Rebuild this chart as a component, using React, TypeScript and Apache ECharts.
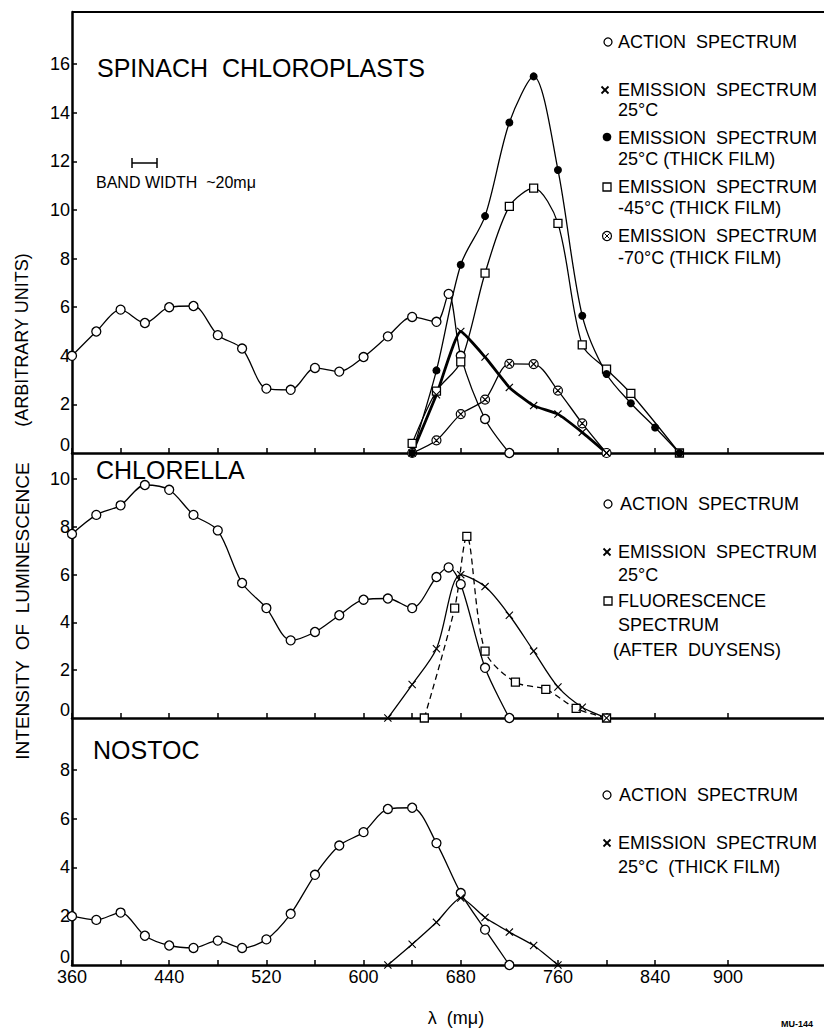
import React, { useEffect, useRef } from "react";
import * as echarts from "echarts";

const FONT = "'Liberation Sans', 'DejaVu Sans', Arial, sans-serif";

// ---- axes ----
const X_MIN = 360;
const X_MAX = 979;
const xTickValues = [360, 400, 440, 480, 520, 560, 600, 640, 680, 720, 760, 800, 840, 900];
const xLabelValues = [360, 440, 520, 600, 680, 760, 840, 900];

const spinachYMax = 18.15;
const spinachTicks = [2, 4, 6, 8, 10, 12, 14, 16];
const spinachLabels = [0, 2, 4, 6, 8, 10, 12, 14, 16];
const chlorellaYMax = 11.09;
const chlorellaTicks = [2, 4, 6, 8, 10];
const chlorellaLabels = [0, 2, 4, 6, 8, 10];
const nostocYMax = 10.09;
const nostocTicks = [2, 4, 6, 8];
const nostocLabels = [0, 2, 4, 6, 8];

// ---- Spinach chloroplasts ----
const spinachActionX = [360, 380, 400, 420, 440, 460, 480, 500, 520, 540, 560, 580, 600, 620, 640, 660, 670, 680, 700, 720];
const spinachActionY = [4.0, 5.0, 5.9, 5.35, 6.0, 6.05, 4.85, 4.3, 2.65, 2.6, 3.5, 3.35, 3.95, 4.8, 5.6, 5.4, 6.55, 4.0, 1.4, 0];

const spinachEm25X = [640, 660, 680, 700, 720, 740, 760, 780, 800];
const spinachEm25Y = [0, 2.4, 5.0, 3.95, 2.7, 1.95, 1.6, 0.85, 0];

const spinachThick25X = [640, 660, 680, 700, 720, 740, 760, 780, 800, 820, 840, 860];
const spinachThick25Y = [0, 3.4, 7.75, 9.75, 13.6, 15.5, 11.65, 5.65, 3.25, 2.05, 1.05, 0];

const spinachM45X = [640, 660, 680, 700, 720, 740, 760, 780, 800, 820, 860];
const spinachM45Y = [0.4, 2.55, 3.75, 7.4, 10.15, 10.9, 9.45, 4.45, 3.45, 2.45, 0];

const spinachM70X = [640, 660, 680, 700, 720, 740, 760, 780, 800];
const spinachM70Y = [0, 0.52, 1.6, 2.2, 3.67, 3.66, 2.57, 1.22, 0];

// ---- Chlorella ----
const chlorellaActionX = [360, 380, 400, 420, 440, 460, 480, 500, 520, 540, 560, 580, 600, 620, 640, 660, 670, 680, 700, 720];
const chlorellaActionY = [7.7, 8.5, 8.9, 9.75, 9.55, 8.5, 7.85, 5.65, 4.6, 3.25, 3.6, 4.3, 4.95, 5.0, 4.6, 5.9, 6.3, 5.6, 2.1, 0];

const chlorellaEmX = [620, 640, 660, 680, 700, 720, 740, 760, 780, 800];
const chlorellaEmY = [0, 1.4, 2.9, 6.0, 5.5, 4.3, 2.8, 1.3, 0.45, 0];

const chlorellaFluorX = [650, 675, 685, 700, 725, 750, 775, 800];
const chlorellaFluorY = [0, 4.6, 7.6, 2.8, 1.5, 1.2, 0.4, 0];

// ---- Nostoc ----
const nostocActionX = [360, 380, 400, 420, 440, 460, 480, 500, 520, 540, 560, 580, 600, 620, 640, 660, 680, 700, 720];
const nostocActionY = [2.0, 1.85, 2.15, 1.2, 0.8, 0.7, 1.0, 0.7, 1.05, 2.1, 3.7, 4.9, 5.45, 6.4, 6.45, 5.0, 2.95, 1.45, 0];

const nostocEmX = [620, 640, 660, 680, 700, 720, 740, 760];
const nostocEmY = [0, 0.85, 1.75, 2.75, 1.95, 1.35, 0.8, 0];

// ---- symbols ----
const SYM_X = "path://M0,1L1,0L5,4L9,0L10,1L6,5L10,9L9,10L5,6L1,10L0,9L4,5Z";
const SYM_OX = "path://M10,0A10,10,0,1,1,10,20A10,10,0,1,1,10,0ZM4,4L16,16M16,4L4,16";

const zip = (xs: number[], ys: number[]) => xs.map((x, i) => [x, ys[i]]);

type Kind = "open" | "cross" | "filled" | "square" | "ox";

function symbolFor(kind: Kind) {
  switch (kind) {
    case "open":
      return { symbol: "circle", symbolSize: 9, itemStyle: { color: "#fff", borderColor: "#000", borderWidth: 1.3 } };
    case "cross":
      return { symbol: SYM_X, symbolSize: 8, itemStyle: { color: "#000", borderWidth: 0 } };
    case "filled":
      return { symbol: "circle", symbolSize: 8, itemStyle: { color: "#000", borderColor: "#000", borderWidth: 0 } };
    case "square":
      return { symbol: "rect", symbolSize: 8, itemStyle: { color: "#fff", borderColor: "#000", borderWidth: 1.3 } };
    case "ox":
      return { symbol: SYM_OX, symbolSize: 9, itemStyle: { color: "#fff", borderColor: "#000", borderWidth: 1.2 } };
  }
}

function line(
  name: string,
  grid: number,
  xs: number[],
  ys: number[],
  kind: Kind,
  width = 1.3,
  smooth = 0.3,
  dashed = false
) {
  return {
    type: "line",
    name,
    xAxisIndex: grid,
    yAxisIndex: grid,
    data: zip(xs, ys),
    smooth,
    showSymbol: true,
    ...symbolFor(kind),
    lineStyle: { color: "#000", width, type: dashed ? [6, 4] : "solid" },
    z: 3,
  };
}

function xAxis(grid: number) {
  return {
    gridIndex: grid,
    type: "value",
    min: X_MIN,
    max: X_MAX,
    axisLine: { show: true, onZero: false, lineStyle: { color: "#000", width: 2.5 } },
    axisTick: { show: true, inside: true, length: 5, customValues: xTickValues, lineStyle: { color: "#000", width: 1.5 } },
    axisLabel: {
      show: grid === 2,
      customValues: xLabelValues,
      color: "#000",
      fontSize: 18,
      fontFamily: FONT,
      margin: 3,
    },
    splitLine: { show: false },
  };
}

function yAxis(grid: number, max: number, ticks: number[], labels: number[]) {
  return {
    gridIndex: grid,
    type: "value",
    min: 0,
    max,
    axisLine: { show: true, onZero: false, lineStyle: { color: "#000", width: 2.5 } },
    axisTick: { show: true, inside: true, length: 5, customValues: ticks, lineStyle: { color: "#000", width: 1.5 } },
    axisLabel: {
      customValues: labels,
      color: "#000",
      fontSize: 18,
      fontFamily: FONT,
      margin: 2,
      formatter: (v: number) => (v === 0 ? "{z|0}" : String(v)),
      rich: { z: { fontSize: 18, fontFamily: FONT, color: "#000", padding: [0, 0, 16, 0] } },
    },
    splitLine: { show: false },
  };
}

function txt(x: number, y: number, text: string, size = 18, extra: any = {}) {
  return {
    type: "text",
    x,
    y,
    silent: true,
    style: { text, fill: "#000", fontSize: size, fontFamily: FONT, align: "left", verticalAlign: "middle", ...extra },
  };
}

function markOpen(cx: number, cy: number) {
  return { type: "circle", shape: { cx, cy, r: 4 }, style: { fill: "#fff", stroke: "#000", lineWidth: 1.3 } };
}
function markFilled(cx: number, cy: number) {
  return { type: "circle", shape: { cx, cy, r: 4.3 }, style: { fill: "#000" } };
}
function markSquare(cx: number, cy: number) {
  return { type: "rect", shape: { x: cx - 4, y: cy - 4, width: 8, height: 8 }, style: { fill: "#fff", stroke: "#000", lineWidth: 1.3 } };
}
function markCross(cx: number, cy: number) {
  return {
    type: "group",
    children: [
      { type: "line", shape: { x1: cx - 3.5, y1: cy - 3.5, x2: cx + 3.5, y2: cy + 3.5 }, style: { stroke: "#000", lineWidth: 1.8 } },
      { type: "line", shape: { x1: cx + 3.5, y1: cy - 3.5, x2: cx - 3.5, y2: cy + 3.5 }, style: { stroke: "#000", lineWidth: 1.8 } },
    ],
  };
}
function markOX(cx: number, cy: number) {
  return {
    type: "group",
    children: [
      { type: "circle", shape: { cx, cy, r: 4.5 }, style: { fill: "#fff", stroke: "#000", lineWidth: 1.2 } },
      { type: "line", shape: { x1: cx - 2.5, y1: cy - 2.5, x2: cx + 2.5, y2: cy + 2.5 }, style: { stroke: "#000", lineWidth: 1 } },
      { type: "line", shape: { x1: cx + 2.5, y1: cy - 2.5, x2: cx - 2.5, y2: cy + 2.5 }, style: { stroke: "#000", lineWidth: 1 } },
    ],
  };
}

export default function App() {
  const ref = useRef<HTMLDivElement>(null);

  useEffect(() => {
    if (!ref.current) return;
    const chart = echarts.init(ref.current, null, { renderer: "svg" });

    const LX = 618;
    const MX = 607;

    const graphic: any[] = [
      // top frame line
      { type: "line", shape: { x1: 72, y1: 12, x2: 824, y2: 12 }, style: { stroke: "#000", lineWidth: 2 } },
      // panel titles
      txt(97, 68, "SPINACH  CHLOROPLASTS", 25),
      txt(96, 470, "CHLORELLA", 25),
      txt(93, 750, "NOSTOC", 25),
      // band width bracket
      { type: "line", shape: { x1: 132, y1: 163, x2: 157, y2: 163 }, style: { stroke: "#000", lineWidth: 1.5 } },
      { type: "line", shape: { x1: 132, y1: 158, x2: 132, y2: 168 }, style: { stroke: "#000", lineWidth: 1.5 } },
      { type: "line", shape: { x1: 157, y1: 158, x2: 157, y2: 168 }, style: { stroke: "#000", lineWidth: 1.5 } },
      txt(96, 182, "BAND WIDTH  ~20mμ", 16),
      // axis titles
      {
        type: "text",
        x: 22,
        y: 611,
        rotation: Math.PI / 2,
        silent: true,
        style: { text: "INTENSITY  OF  LUMINESCENCE", fill: "#000", fontSize: 19, fontFamily: FONT, align: "center", verticalAlign: "middle" },
      },
      {
        type: "text",
        x: 22,
        y: 340,
        rotation: Math.PI / 2,
        silent: true,
        style: { text: "(ARBITRARY UNITS)", fill: "#000", fontSize: 18, fontFamily: FONT, align: "center", verticalAlign: "middle" },
      },
      txt(456, 1018, "λ  (mμ)", 18, { align: "center" }),
      txt(781, 1024, "MU-144", 9, { fontWeight: "bold" }),

      // spinach legend
      markOpen(MX + 1, 42),
      txt(LX, 42, "ACTION  SPECTRUM", 18),
      markCross(MX - 2, 90),
      txt(LX, 90, "EMISSION  SPECTRUM", 18),
      txt(LX, 110, "25°C", 18),
      markFilled(MX, 137),
      txt(LX, 138, "EMISSION  SPECTRUM", 18),
      txt(LX, 159, "25°C (THICK FILM)", 18),
      markSquare(MX, 187),
      txt(LX, 187, "EMISSION  SPECTRUM", 18),
      txt(LX, 208, "-45°C (THICK FILM)", 18),
      markOX(MX, 236),
      txt(LX, 236, "EMISSION  SPECTRUM", 18),
      txt(LX, 258, "-70°C (THICK FILM)", 18),

      // chlorella legend
      markOpen(MX + 1, 504),
      txt(LX + 2, 504, "ACTION  SPECTRUM", 18),
      markCross(MX, 552),
      txt(LX, 552, "EMISSION  SPECTRUM", 18),
      txt(LX, 575, "25°C", 18),
      markSquare(MX + 1, 601),
      txt(LX, 601, "FLUORESCENCE", 18),
      txt(LX, 625, "SPECTRUM", 18),
      txt(LX - 5, 650, "(AFTER  DUYSENS)", 18),

      // nostoc legend
      markOpen(MX, 795),
      txt(LX + 1, 795, "ACTION  SPECTRUM", 18),
      markCross(MX, 843),
      txt(LX, 843, "EMISSION  SPECTRUM", 18),
      txt(LX, 867, "25°C  (THICK FILM)", 18),
    ];

    const option: any = {
      animation: false,
      backgroundColor: "#fff",
      grid: [
        { left: 72, width: 752, top: 12, height: 441 },
        { left: 72, width: 752, top: 453, height: 265 },
        { left: 72, width: 752, top: 719, height: 246 },
      ],
      xAxis: [xAxis(0), xAxis(1), xAxis(2)],
      yAxis: [
        yAxis(0, spinachYMax, spinachTicks, spinachLabels),
        yAxis(1, chlorellaYMax, chlorellaTicks, chlorellaLabels),
        yAxis(2, nostocYMax, nostocTicks, nostocLabels),
      ],
      series: [
        line("Spinach action spectrum", 0, spinachActionX, spinachActionY, "open", 1.3, 0.3),
        line("Spinach emission -70°C (thick film)", 0, spinachM70X, spinachM70Y, "ox", 1.3, 0.3),
        line("Spinach emission -45°C (thick film)", 0, spinachM45X, spinachM45Y, "square", 1.3, 0.3),
        line("Spinach emission 25°C (thick film)", 0, spinachThick25X, spinachThick25Y, "filled", 1.3, 0.3),
        line("Spinach emission 25°C", 0, spinachEm25X, spinachEm25Y, "cross", 2.8, 0.15),

        line("Chlorella action spectrum", 1, chlorellaActionX, chlorellaActionY, "open", 1.3, 0.3),
        line("Chlorella fluorescence spectrum", 1, chlorellaFluorX, chlorellaFluorY, "square", 1.3, 0.3, true),
        line("Chlorella emission 25°C", 1, chlorellaEmX, chlorellaEmY, "cross", 1.3, 0.3),

        line("Nostoc action spectrum", 2, nostocActionX, nostocActionY, "open", 1.3, 0.3),
        line("Nostoc emission 25°C (thick film)", 2, nostocEmX, nostocEmY, "cross", 1.3, 0.2),
      ],
      graphic,
    };

    chart.setOption(option);
    return () => chart.dispose();
  }, []);

  return (
    <div
      ref={ref}
      style={{ position: "absolute", left: 0, top: 0, width: 824, height: 1030, background: "#fff" }}
    />
  );
}
